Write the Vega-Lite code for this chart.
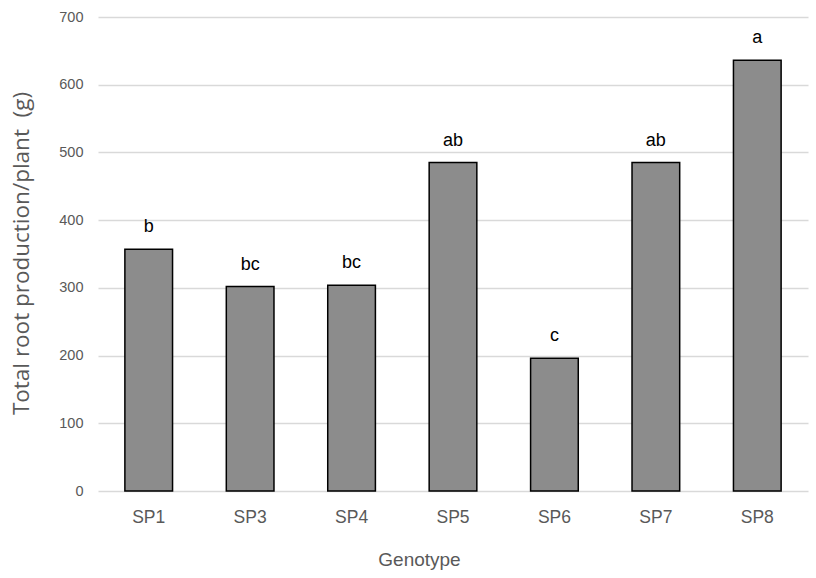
{
  "$schema": "https://vega.github.io/schema/vega-lite/v6.json",
  "width": 710,
  "height": 474,
  "autosize": {"type": "none"},
  "padding": {"left": 98, "top": 17, "right": 8, "bottom": 87},
  "background": "#ffffff",
  "config": {
    "view": {"stroke": null},
    "axis": {"labelColor": "#595959", "titleColor": "#595959", "titleFontWeight": "normal"}
  },
  "data": {
    "values": [
      {"genotype": "SP1", "root": 357, "group": "b"},
      {"genotype": "SP3", "root": 302, "group": "bc"},
      {"genotype": "SP4", "root": 304, "group": "bc"},
      {"genotype": "SP5", "root": 485, "group": "ab"},
      {"genotype": "SP6", "root": 196, "group": "c"},
      {"genotype": "SP7", "root": 485, "group": "ab"},
      {"genotype": "SP8", "root": 636, "group": "a"}
    ]
  },
  "encoding": {
    "x": {
      "field": "genotype",
      "type": "nominal",
      "sort": null,
      "scale": {"paddingInner": 0.53, "paddingOuter": 0.265},
      "axis": {
        "title": "Genotype",
        "titleFont": "Liberation Sans",
        "titleFontSize": 19,
        "titleX": 321,
        "titleY": 74,
        "titleBaseline": "alphabetic",
        "labelFont": "Liberation Sans",
        "labelFontSize": 17.5,
        "labelAngle": 0,
        "labelPadding": 17,
        "ticks": false,
        "domain": false
      }
    },
    "y": {
      "field": "root",
      "type": "quantitative",
      "scale": {"domain": [0, 700], "nice": false},
      "axis": {
        "title": "Total root production/plant\u00a0 (g)",
        "titleFont": "Open Sans",
        "titleFontSize": 22.5,
        "titleX": -65,
        "titleY": 236,
        "titleAlign": "center",
        "values": [0, 100, 200, 300, 400, 500, 600, 700],
        "labelFont": "Liberation Sans",
        "labelFontSize": 14.5,
        "labelPadding": 15,
        "ticks": false,
        "domain": false,
        "grid": true,
        "gridColor": "#d9d9d9",
        "gridWidth": 1.5
      }
    }
  },
  "layer": [
    {
      "mark": {"type": "bar", "fill": "#8c8c8c", "stroke": "#000000", "strokeWidth": 1.5}
    },
    {
      "mark": {
        "type": "text",
        "font": "Liberation Sans",
        "fontSize": 18,
        "color": "#000000",
        "baseline": "alphabetic",
        "dy": -17
      },
      "encoding": {"text": {"field": "group"}}
    }
  ]
}
